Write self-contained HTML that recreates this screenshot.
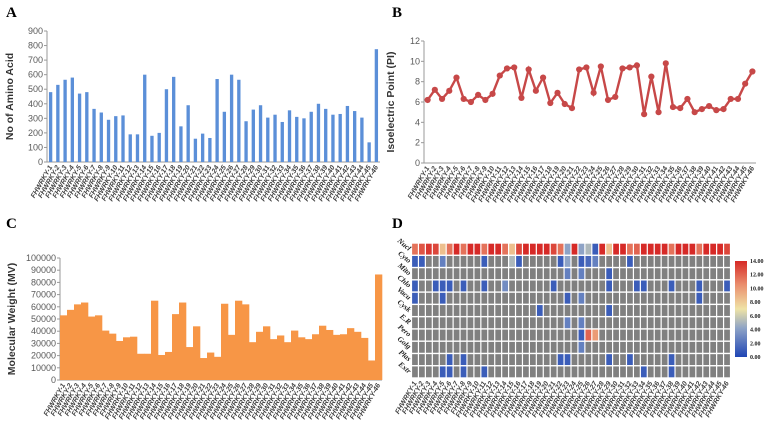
<!DOCTYPE html>
<html><head><meta charset="utf-8"><style>
body{margin:0;background:#fff}
svg{display:block;font-family:"Liberation Sans",sans-serif}
.tk{font-size:9px;fill:#595959}
.xl{font-size:7px;fill:#404040;font-style:italic;font-weight:bold}
.pl{font-family:"Liberation Serif",serif;font-weight:bold;font-size:15px;fill:#000}
.yt{font-size:10.5px;font-weight:bold;fill:#333}
</style></head><body>
<svg id="s" width="768" height="425" viewBox="0 0 768 425" xmlns="http://www.w3.org/2000/svg">
<defs><linearGradient id="cb" x1="0" y1="1" x2="0" y2="0">
<stop offset="0" stop-color="#1f45b5"/><stop offset="0.3" stop-color="#8ea3c6"/><stop offset="0.5" stop-color="#efe3a6"/><stop offset="0.75" stop-color="#ea8f6e"/><stop offset="1" stop-color="#d62a27"/></linearGradient></defs>
<text class="pl" x="6" y="17">A</text>
<text class="pl" x="392" y="17">B</text>
<text class="pl" x="6" y="228">C</text>
<text class="pl" x="392" y="228">D</text>
<g id="g"></g>
</svg>
<script>
const names = Array.from({length:46},(_,i)=>'FHWRKY-'+(i+1));
const aminoAcids = [480,530,565,580,470,480,365,340,290,315,320,190,190,600,180,200,500,585,245,390,160,195,165,570,345,600,565,280,360,390,305,325,275,355,310,300,345,400,365,325,330,385,350,305,135,775];
const pI = [6.2,7.2,6.3,7.1,8.4,6.3,6.0,6.7,6.2,6.8,8.6,9.3,9.4,6.4,9.2,7.1,8.4,5.9,6.9,5.8,5.4,9.2,9.4,6.9,9.5,6.2,6.5,9.3,9.4,9.6,4.8,8.5,5.0,9.8,5.5,5.4,6.3,5.0,5.3,5.6,5.2,5.3,6.3,6.3,7.8,9.0];
const molWeight = [53000,57500,62000,63500,52000,53000,40500,38000,32000,35000,35500,21500,21500,65000,20500,23000,54000,63500,27000,44000,18000,22500,19000,62500,37000,65000,62000,31000,39500,44000,33500,36500,31000,40500,35000,33500,37500,44500,41000,37000,37500,42500,39500,34500,16000,86500];
const ticksA = [0,100,200,300,400,500,600,700,800,900];
const ticksB = [0,2,4,6,8,10,12];
const ticksC = [0,10000,20000,30000,40000,50000,60000,70000,80000,90000,100000];
const locs = ['Nucl','Cyto','Mito','Chlo','Vacu','Cysk','E.R','Pero','Golg','Plas','Extr'];
const nuclRow = [11.5,12.5,13.5,13,8.5,11.5,14,11.5,14,14,11.5,14,14,11.5,8.5,13,14,14,14,14,13,11.5,4,14,4,5,1,14,8.5,14,14,11.5,12,14,14,14,14,11.5,14,14,14,11.5,14,14,14,13];
const cells = [[1,0,1],[1,1,1],[1,4,2.5],[1,10,1],[1,14,5],[1,15,1],[1,21,1],[1,22,4],[1,24,1],[1,25,1.5],[1,26,2.5],[1,31,1],
[2,22,2.5],[2,24,2.5],[2,28,1],
[3,0,1],[3,3,1],[3,4,1],[3,5,1],[3,7,1],[3,10,1],[3,13,3],[3,20,1],[3,28,1],[3,32,1],[3,33,1],[3,37,1],[3,41,1],[3,45,1],
[4,0,1],[4,4,1],[4,22,1],[4,24,2.5],[4,41,1],
[5,18,1],[5,28,1],
[6,22,2.5],[6,24,2.5],
[7,24,1],[7,25,12],[7,26,10],
[8,24,2.5],
[9,5,1],[9,7,1],[9,21,1],[9,22,1],[9,28,1],[9,31,1],[9,37,1],
[10,4,1],[10,5,1],[10,7,1],[10,10,1],[10,33,1],[10,37,1]];
const cbTicks = [0,2,4,6,8,10,12,14];

const NS='http://www.w3.org/2000/svg', G=document.getElementById('g');
function el(t,a,txt){const e=document.createElementNS(NS,t);for(const k in a)e.setAttribute(k,a[k]);if(txt!==undefined)e.textContent=txt;G.appendChild(e);return e;}
function lin(d0,d1,r0,r1){return v=>r0+(v-d0)/(d1-d0)*(r1-r0);}

function axes(x0,x1,yT,yB,ticks,ymax,title,titleX,key){
  const y=lin(0,ymax,yB,yT);
  let e=el('line',{x1:x0,y1:yT,x2:x0,y2:yB,stroke:'#999','stroke-width':1});
  
  
  e=el('line',{x1:x0,y1:yB,x2:x1,y2:yB,stroke:'#999','stroke-width':1});
  
  
  ticks.forEach(t=>{
    e=el('text',{class:'tk',x:x0-4,y:y(t)+3,'text-anchor':'end'},t);
    
    
    const l=el('line',{x1:x0-3,y1:y(t),x2:x0,y2:y(t),stroke:'#999'});
    
    
  });
  const cy=(yT+yB)/2;
  e=el('text',{class:'yt',x:titleX,y:cy,'text-anchor':'middle',transform:`rotate(-90 ${titleX} ${cy})`},title);
  
  
  return y;
}
function xlabels(x0,x1,yB,key){
  const w=(x1-x0)/names.length;
  names.forEach((n,i)=>{
    const cx=x0+(i+0.5)*w+2, cy=yB+5;
    const e=el('text',{class:'xl',x:cx,y:cy,'text-anchor':'end',transform:`rotate(-60 ${cx} ${cy})`},n);
    
    
  });
}

(function(){
  const x0=47,x1=380,yT=31,yB=162;
  const y=axes(x0,x1,yT,yB,ticksA,900,'No of Amino Acid',13,'a');
  const w=(x1-x0)/aminoAcids.length;
  aminoAcids.forEach((v,i)=>{
    const e=el('rect',{x:x0+i*w+w*0.27,y:y(v),width:w*0.46,height:yB-y(v),fill:'#5b8fd8'});
    
    
  });
  xlabels(x0,x1,yB,'a');
})();

(function(){
  const x0=424,x1=756,yT=41,yB=163;
  const y=axes(x0,x1,yT,yB,ticksB,12,'Isoelectric Point (PI)',394,'b');
  const w=(x1-x0)/pI.length;
  const pts=pI.map((v,i)=>[x0+(i+0.5)*w,y(v)]);
  let e=el('polyline',{points:pts.map(p=>p.join(',')).join(' '),fill:'none',stroke:'#c74848','stroke-width':2.4});
  
  
  pts.forEach(p=>{
    const c=el('circle',{cx:p[0],cy:p[1],r:3.1,fill:'#c74848'});
    
    
  });
  xlabels(x0,x1,yB,'b');
})();

(function(){
  const x0=60,x1=382,yT=258,yB=380;
  const y=axes(x0,x1,yT,yB,ticksC,100000,'Molecular Weight (MV)',15,'c');
  const w=(x1-x0)/molWeight.length;
  molWeight.forEach((v,i)=>{
    const e=el('rect',{x:x0+i*w,y:y(v),width:w+0.3,height:yB-y(v),fill:'#f79646'});
    
    
  });
  xlabels(x0,x1,yB,'c');
})();

(function(){
  const x0=411.5,x1=730.5,yT=243,yB=378;
  const cw=(x1-x0)/names.length, rh=(yB-yT)/locs.length;
  const stops=[[0,[31,69,181]],[4,[142,163,198]],[7,[239,227,166]],[10.5,[234,143,110]],[14,[214,42,39]]];
  function col(v){for(let i=1;i<stops.length;i++){if(v<=stops[i][0]){const a=stops[i-1],b=stops[i],t=(v-a[0])/(b[0]-a[0]);return 'rgb('+a[1].map((c,k)=>Math.round(c+(b[1][k]-c)*t)).join(',')+')';}}return 'rgb(214,42,39)';}
  const grid=locs.map((_,r)=>names.map((_,c)=>r===0?nuclRow[c]:null));
  cells.forEach(([r,c,v])=>{grid[r][c]=v;});
  let e=el('rect',{x:x0,y:yT,width:x1-x0,height:yB-yT,fill:'#fff'});
  
  
  grid.forEach((row,r)=>row.forEach((v,c)=>{
    const e=el('rect',{x:x0+c*cw+0.6,y:yT+r*rh+0.7,width:cw-1.2,height:rh-1.4,fill:v===null?'#808080':col(v)});
    
    
  }));
  locs.forEach((n,r)=>{
    const tx=x0-3, ty=yT+(r+0.5)*rh+2;
    const e=el('text',{x:tx,y:ty,'text-anchor':'end',transform:`rotate(40 ${tx} ${ty})`,'font-family':'Liberation Serif, serif','font-style':'italic','font-weight':'bold','font-size':'7.5px',fill:'#222'},n);
    
    
  });
  xlabels(x0,x1,yB,'d');
  const bx=735,bT=261,bB=357;
  e=el('rect',{x:bx,y:bT,width:12,height:bB-bT,fill:'url(#cb)'});
  
  
  const cy=lin(0,14,bB,bT);
  cbTicks.forEach(t=>{
    const l=el('text',{x:750,y:cy(t)+2,'font-family':'Liberation Serif, serif','font-weight':'bold','font-size':'6px',fill:'#222'},t.toFixed(2));
    
    
  });
})();
</script>
</body></html>
